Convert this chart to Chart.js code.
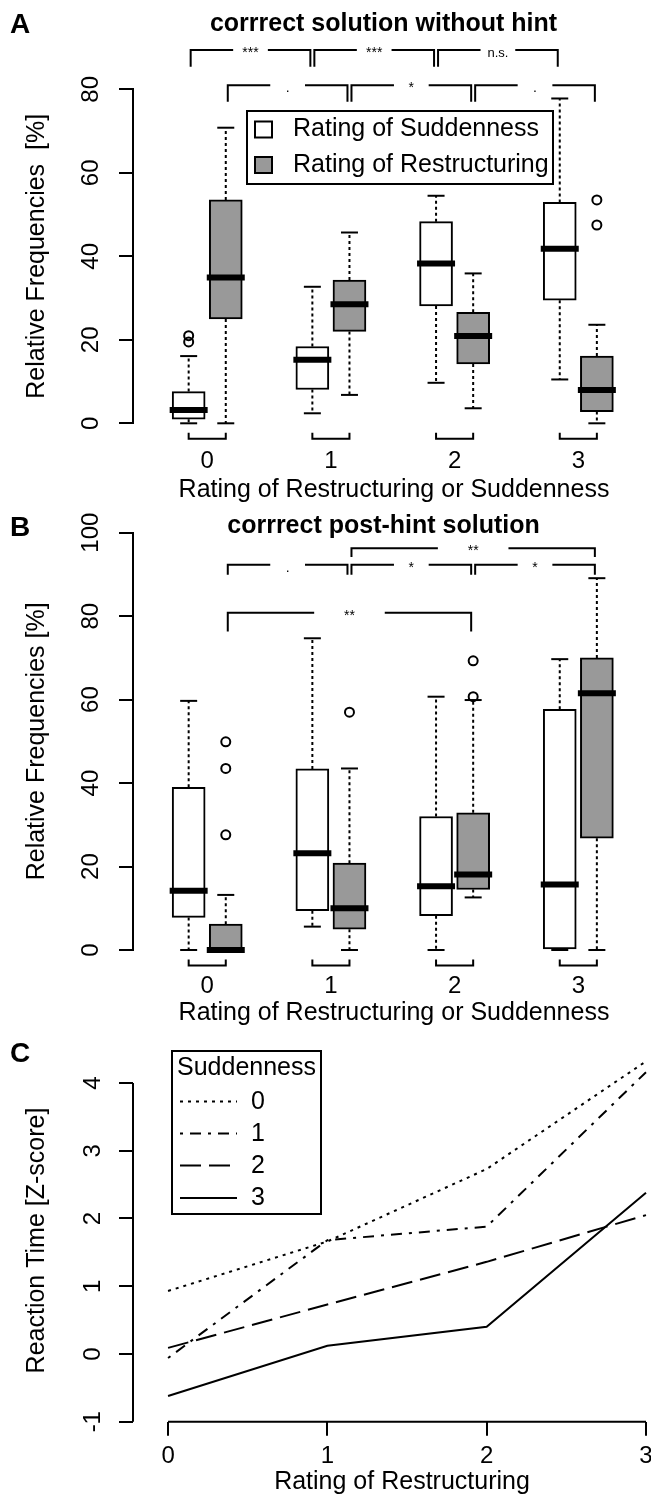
<!DOCTYPE html>
<html>
<head>
<meta charset="utf-8">
<title>Ratings of suddenness and restructuring</title>
<script src="https://cdn.jsdelivr.net/npm/chart.js@4.4.1/dist/chart.umd.min.js"></script>
<style>
  html, body { margin: 0; padding: 0; background: #fff; overflow: hidden; }
  #wrap { position: relative; width: 651px; height: 1497px; overflow: hidden; background: #fff; }
  canvas { position: absolute; left: 0; }
  #chartA { top: 0; }
  #chartB { top: 505px; }
  #chartC { top: 1030px; }
</style>
</head>
<body>
<div id="wrap">
  <canvas id="chartA" width="680" height="505"></canvas>
  <canvas id="chartB" width="680" height="525"></canvas>
  <canvas id="chartC" width="680" height="467"></canvas>
</div>
<script>
const groups = [0, 1, 2, 3];
const seriesNames = ['Rating of Suddenness', 'Rating of Restructuring'];

// box stats per rating: [lower whisker, Q1, median, Q3, upper whisker]
const aSuddenness = [[0, 1, 3.2, 7.6, 16.1], [2.4, 8.1, 15.2, 18.4, 32.7], [9.7, 28.1, 38.3, 48.3, 54.5], [10.5, 29.5, 41.8, 52.9, 77.8]];
const aRestructuring = [[0, 25, 34.9, 53.5, 70.8], [6.8, 22, 28.5, 34.3, 45.7], [3.6, 14.2, 20.9, 26.6, 35.9], [0, 2.8, 8, 16.1, 23.6]];
const aSuddennessOut = [[21, 19.5], [], [], []];
const aRestructuringOut = [[], [], [], [53.5, 47.5]];

const bSuddenness = [[0, 7.8, 14.2, 39, 59.7], [5.6, 9.4, 23.2, 43.4, 74.7], [0, 8.2, 15.3, 32, 60.7], [0, 0, 15.7, 57.7, 69.7]];
const bRestructuring = [[0, 0, 0, 6.2, 13.2], [0, 5, 10, 20.8, 43.5], [12.6, 14.5, 18.1, 32.9, 59.9], [0, 26.8, 61.5, 70, 89.1]];
const bSuddennessOut = [[], [], [], []];
const bRestructuringOut = [[49.9, 43.5, 27.6], [57], [60.7, 69.3], []];

const aTicks = [0, 20, 40, 60, 80];
const bTicks = [0, 20, 40, 60, 80, 100];

// significance brackets: [from rating, to rating, series, line level, foot level, label]
const aSignif = [
  [0, 1, 0, 89.4, 85.4, '***'],
  [1, 2, 0, 89.4, 85.4, '***'],
  [2, 3, 0, 89.4, 85.4, 'n.s.'],
  [0, 1, 1, 81.0, 77.0, '.'],
  [1, 2, 1, 81.0, 77.0, '*'],
  [2, 3, 1, 81.0, 77.0, '.']
];
const bSignif = [
  [0, 1, 1, 92.3, 89.9, '.'],
  [1, 2, 1, 92.3, 89.9, '*'],
  [2, 3, 1, 92.3, 89.9, '*'],
  [1, 3, 1, 96.3, 94.2, '**'],
  [0, 2, 1, 80.8, 76.3, '**']
];

// panel C: mean reaction time per restructuring rating, one line per suddenness rating
const restructuringRatings = [0, 1, 2, 3];
const suddennessLevels = ['0', '1', '2', '3'];
const rtSudden0 = [0.93, 1.66, 2.73, 4.32];
const rtSudden1 = [-0.06, 1.68, 1.88, 4.16];
const rtSudden2 = [0.09, 0.73, 1.36, 2.05];
const rtSudden3 = [-0.62, 0.12, 0.40, 2.38];
const cTicks = [-1, 0, 1, 2, 3, 4];

const FONT = '"Liberation Sans", Arial, Helvetica, sans-serif';
const GRAY = '#999999';
const PAIR = 0.15;
const boxFills = ['#ffffff', GRAY];
const lineDashes = [[3, 5], [3, 7, 11, 7], [21, 8], []];

Chart.defaults.font.family = FONT;
Chart.defaults.color = '#000';

function boxDatasets(sudd, restr, suddOut, restrOut) {
  const sets = [[sudd, suddOut, -PAIR], [restr, restrOut, PAIR]];
  const medians = [], caps = [], whiskers = [], outliers = [];
  sets.forEach(([stats, outs, shift]) => {
    stats.forEach((s, i) => {
      const x = groups[i] + shift;
      medians.push({x, y: s[2]});
      caps.push({x, y: s[0]}, {x, y: s[4]});
      whiskers.push({x, y: s[3]}, {x, y: s[4]}, {x, y: null}, {x, y: s[1]}, {x, y: s[0]}, {x, y: null});
      outs[i].forEach(v => outliers.push({x, y: v}));
    });
  });
  const boxes = sets.map(([stats, , shift], k) => ({
    type: 'bar',
    label: seriesNames[k],
    data: stats.map((s, i) => ({x: groups[i] + shift, y: [s[1], s[3]]})),
    backgroundColor: boxFills[k],
    borderColor: '#000',
    borderWidth: 2,
    borderSkipped: false,
    barThickness: 33,
    grouped: false
  }));
  return [
    {type: 'scatter', data: medians, pointStyle: 'line', pointRadius: 19, pointBorderWidth: 6, pointBorderColor: '#000'},
    ...boxes,
    {type: 'scatter', data: caps, pointStyle: 'line', pointRadius: 8.5, pointBorderWidth: 2, pointBorderColor: '#000'},
    {type: 'line', data: whiskers, borderColor: '#000', borderWidth: 2, borderDash: [3, 3], pointRadius: 0, spanGaps: false},
    {type: 'scatter', data: outliers, pointStyle: 'circle', pointRadius: 4.5, pointBorderWidth: 2, pointBorderColor: '#000', pointBackgroundColor: 'rgba(0,0,0,0)'}
  ].map(d => Object.assign({clip: false}, d));
}

function drawBoxLegend(ctx) {
  ctx.strokeRect(247, 111, 306, 73);
  [129.5, 165].forEach((cy, k) => {
    ctx.fillStyle = boxFills[k];
    ctx.fillRect(255, cy - 8, 17, 16);
    ctx.strokeRect(255, cy - 8, 17, 16);
    ctx.fillStyle = '#000';
    ctx.font = '25px ' + FONT;
    ctx.textAlign = 'left';
    ctx.fillText(seriesNames[k], 293, cy);
  });
}

function drawLineLegend(ctx) {
  ctx.strokeRect(172, 21, 149, 163);
  ctx.font = '25px ' + FONT;
  ctx.textAlign = 'left';
  ctx.fillText('Suddenness', 177, 38.5);
  [71.5, 103.5, 135.5, 168].forEach((cy, k) => {
    ctx.setLineDash(lineDashes[k]);
    ctx.beginPath();
    ctx.moveTo(180, cy);
    ctx.lineTo(237, cy);
    ctx.stroke();
    ctx.setLineDash([]);
    ctx.fillText(suddennessLevels[k], 251, cy + 0.5);
  });
}

const decorPlugin = (spec) => ({
  id: 'decor' + spec.letter,
  afterDraw(chart) {
    const {ctx, chartArea, scales: {x, y}} = chart;
    ctx.save();
    ctx.fillStyle = '#000';
    ctx.strokeStyle = '#000';
    ctx.lineWidth = 2;
    ctx.textBaseline = 'middle';

    ctx.font = 'bold 28px ' + FONT;
    ctx.textAlign = 'left';
    ctx.fillText(spec.letter, 10, spec.letterY);

    if (spec.title) {
      ctx.font = 'bold 25px ' + FONT;
      ctx.textAlign = 'center';
      ctx.fillText(spec.title, 383.5, spec.titleY);
    }

    // R style axis: a bracket under each pair of boxes
    if (spec.pairs) {
      const t = chartArea.bottom + 9.5, b = chartArea.bottom + 15.5;
      groups.forEach(g => {
        const l = x.getPixelForValue(g - PAIR), r = x.getPixelForValue(g + PAIR);
        ctx.beginPath();
        ctx.moveTo(l, t); ctx.lineTo(l, b); ctx.lineTo(r, b); ctx.lineTo(r, t);
        ctx.stroke();
      });
    }

    (spec.signif || []).forEach(([g1, g2, s, level, foot, label]) => {
      const shift = s === 0 ? -PAIR : PAIR;
      const x1 = x.getPixelForValue(g1 + shift) + 2, x2 = x.getPixelForValue(g2 + shift) - 2;
      const yl = y.getPixelForValue(level), yf = y.getPixelForValue(foot);
      const mid = (x1 + x2) / 2, gap = (x2 - x1) * 0.29;
      ctx.beginPath();
      ctx.moveTo(x1, yf); ctx.lineTo(x1, yl); ctx.lineTo(mid - gap / 2, yl);
      ctx.moveTo(mid + gap / 2, yl); ctx.lineTo(x2, yl); ctx.lineTo(x2, yf);
      ctx.stroke();
      ctx.font = (label === 'n.s.' ? '13px ' : '14px ') + FONT;
      ctx.textAlign = 'center';
      ctx.fillText(label, mid, yl + 3);
    });

    if (spec.axisLines) {
      ctx.beginPath();
      ctx.moveTo(y.right, y.getPixelForValue(cTicks[0]));
      ctx.lineTo(y.right, y.getPixelForValue(cTicks[cTicks.length - 1]));
      ctx.moveTo(x.getPixelForValue(restructuringRatings[0]), chartArea.bottom);
      ctx.lineTo(x.getPixelForValue(restructuringRatings[restructuringRatings.length - 1]), chartArea.bottom);
      ctx.stroke();
    }

    if (spec.legend) spec.legend(ctx);
    ctx.restore();
  }
});

function yAxis(min, max, ticks, title, tickPad) {
  return {
    min, max,
    afterBuildTicks: s => { s.ticks = ticks.map(v => ({value: v})); },
    afterFit: s => { s.width = 133; },
    grid: {drawOnChartArea: false, tickLength: 14, color: '#000', lineWidth: 2},
    ticks: {minRotation: 90, maxRotation: 90, crossAlign: 'center', padding: tickPad, autoSkip: false, font: {size: 24}},
    title: {display: true, text: title, font: {size: 25}, padding: {top: 22.4, bottom: 0}}
  };
}

function boxOptions(p) {
  const y = yAxis(0, p.yMax, p.ticks, 'Relative Frequencies  [%]', p.yTickPad);
  y.border = {display: true, color: '#000', width: 2};
  return {
    responsive: false,
    animation: false,
    events: [],
    layout: {padding: {top: p.padTop, right: 13, left: 0, bottom: 0}},
    plugins: {legend: {display: false}, tooltip: {enabled: false}},
    scales: {
      x: {
        type: 'linear', min: -0.6, max: 3.62, offset: false,
        afterBuildTicks: s => { s.ticks = groups.map(v => ({value: v})); },
        afterFit: s => { s.height = p.xHeight; },
        grid: {display: false, drawTicks: false, offset: false},
        border: {display: false},
        ticks: {padding: p.xTickPad, autoSkip: false, font: {size: 24}},
        title: {display: true, text: 'Rating of Restructuring or Suddenness', font: {size: 25}, padding: {top: 0, bottom: p.xTitlePad}}
      },
      y
    }
  };
}

new Chart(document.getElementById('chartA'), {
  type: 'bar',
  data: {datasets: boxDatasets(aSuddenness, aRestructuring, aSuddennessOut, aRestructuringOut)},
  options: boxOptions({padTop: 89.3, xHeight: 81.7, yMax: 80, ticks: aTicks, yTickPad: 14, xTickPad: 24, xTitlePad: 0}),
  plugins: [decorPlugin({letter: 'A', letterY: 25, title: 'corrrect solution without hint', titleY: 24, pairs: true, signif: aSignif, legend: drawBoxLegend})]
});

const optsB = boxOptions({padTop: 27.7, xHeight: 80, yMax: 100, ticks: bTicks, yTickPad: 7.3, xTickPad: 21.5, xTitlePad: 1.6});
optsB.scales.y.title.text = 'Relative Frequencies [%]';
new Chart(document.getElementById('chartB'), {
  type: 'bar',
  data: {datasets: boxDatasets(bSuddenness, bRestructuring, bSuddennessOut, bRestructuringOut)},
  options: optsB,
  plugins: [decorPlugin({letter: 'B', letterY: 23.5, title: 'corrrect post-hint solution', titleY: 21, pairs: true, signif: bSignif})]
});

const cY = yAxis(-1, 4.35, cTicks, 'Reaction Time [Z-score]', 14.9);
cY.border = {display: false};
new Chart(document.getElementById('chartC'), {
  type: 'line',
  data: {
    datasets: [rtSudden0, rtSudden1, rtSudden2, rtSudden3].map((vals, k) => ({
      label: suddennessLevels[k],
      data: restructuringRatings.map((x, i) => ({x, y: vals[i]})),
      borderColor: '#000',
      borderWidth: 2,
      borderDash: lineDashes[k],
      pointRadius: 0,
      tension: 0,
      clip: false
    }))
  },
  options: {
    responsive: false,
    animation: false,
    events: [],
    layout: {padding: {top: 10, right: 9, left: 0, bottom: 0}},
    plugins: {legend: {display: false}, tooltip: {enabled: false}},
    scales: {
      x: {
        type: 'linear', min: -0.22, max: 3.157,
        afterBuildTicks: s => { s.ticks = restructuringRatings.map(v => ({value: v})); },
        afterFit: s => { s.height = 75.3; },
        grid: {drawOnChartArea: false, tickLength: 14, color: '#000', lineWidth: 2},
        border: {display: false},
        ticks: {padding: 6.6, autoSkip: false, font: {size: 24}},
        title: {display: true, text: 'Rating of Restructuring', font: {size: 25}, padding: {top: 0, bottom: 0}}
      },
      y: cY
    }
  },
  plugins: [decorPlugin({letter: 'C', letterY: 24.5, axisLines: true, legend: drawLineLegend})]
});
</script>
</body>
</html>
